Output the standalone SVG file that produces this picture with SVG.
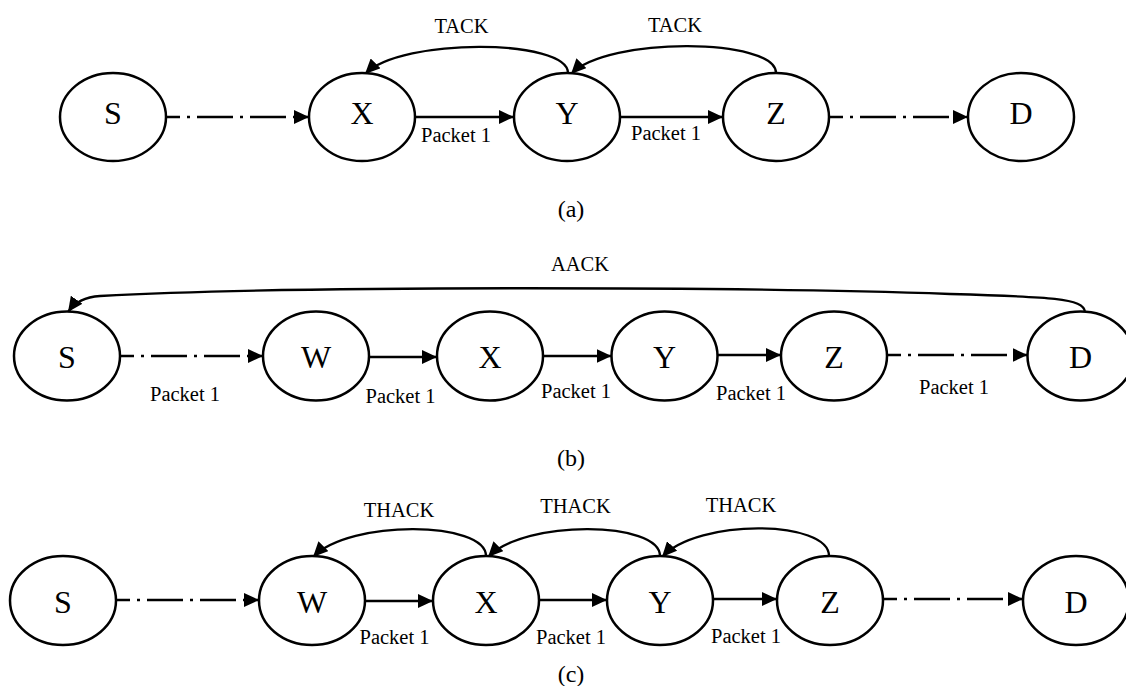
<svg xmlns="http://www.w3.org/2000/svg" width="1126" height="686" viewBox="0 0 1126 686">
<defs>
<marker id="ah" markerUnits="userSpaceOnUse" markerWidth="15" markerHeight="14" viewBox="0 0 15 14" refX="15" refY="7" orient="auto">
<path d="M0,0 L15,7 L0,14 z" fill="#000"/>
</marker>
</defs>
<style>
.node ellipse{fill:#fff;stroke:#000;stroke-width:2.5}
.node text{font-family:"Liberation Serif","Times New Roman",serif;font-size:32px;text-anchor:middle;fill:#000}
.lbl{font-family:"Liberation Serif","Times New Roman",serif;font-size:20.5px;text-anchor:middle;fill:#000}
.cap{font-size:24px}
.c path{stroke:#000;stroke-width:2.3;fill:none;marker-end:url(#ah)}
.c path.dash{stroke-dasharray:36 7 3 7;stroke-dashoffset:22}
</style>
<rect width="1126" height="686" fill="#fff"/>

<g id="connectors" class="c">
<!-- Row (a) -->
<path class="dash" d="M166,117 H309"/>
<path d="M415,117 H514"/>
<path d="M620,117 H723"/>
<path class="dash" d="M829,117 H968"/>
<path d="M568,73 C568,39 402,37 365,74"/>
<path d="M776,73 C776,38 608,36 571,74"/>
<!-- Row (b) -->
<path class="dash" d="M120,356 H263"/>
<path d="M369,357 H437"/>
<path d="M543,356 H611.5"/>
<path d="M717.5,355 H781"/>
<path class="dash" d="M887,355 H1027.5"/>
<path d="M1085,312 C1084,298 1050,297 950,294 C750,287 300,285 100,296 C85,297 75,302 68,312"/>
<!-- Row (c) -->
<path class="dash" d="M116,600 H259"/>
<path d="M365,601 H433"/>
<path d="M539,600 H607"/>
<path d="M713,599 H777"/>
<path class="dash" d="M883,599 H1023"/>
<path d="M486,556 C486,521 350,519 313,557"/>
<path d="M660,556 C660,521 525,519 488,557"/>
<path d="M829,556 C829,520 698,518 662,557"/>
</g>

<!-- Row (a) nodes -->
<g id="a-S" class="node"><ellipse cx="113" cy="117" rx="53" ry="44"/><text x="113" y="123.5">S</text></g>
<g id="a-X" class="node"><ellipse cx="362" cy="117" rx="53" ry="44"/><text x="362" y="123.5">X</text></g>
<g id="a-Y" class="node"><ellipse cx="567" cy="117" rx="53" ry="44"/><text x="567" y="123.5">Y</text></g>
<g id="a-Z" class="node"><ellipse cx="776" cy="117" rx="53" ry="44"/><text x="776" y="123.5">Z</text></g>
<g id="a-D" class="node"><ellipse cx="1021" cy="117" rx="53" ry="44"/><text x="1021" y="123.5">D</text></g>

<!-- Row (b) nodes -->
<g id="b-S" class="node"><ellipse cx="67" cy="356" rx="53" ry="44.5"/><text x="67" y="367.5">S</text></g>
<g id="b-W" class="node"><ellipse cx="316" cy="356" rx="53" ry="44.5"/><text x="316" y="367.5">W</text></g>
<g id="b-X" class="node"><ellipse cx="490" cy="356" rx="53" ry="44.5"/><text x="490" y="367.5">X</text></g>
<g id="b-Y" class="node"><ellipse cx="664.5" cy="356" rx="53" ry="44.5"/><text x="664.5" y="367.5">Y</text></g>
<g id="b-Z" class="node"><ellipse cx="834" cy="356" rx="53" ry="44.5"/><text x="834" y="367.5">Z</text></g>
<g id="b-D" class="node"><ellipse cx="1080.5" cy="356" rx="53" ry="44.5"/><text x="1080.5" y="367.5">D</text></g>

<!-- Row (c) nodes -->
<g id="c-S" class="node"><ellipse cx="63" cy="600.5" rx="53" ry="44.5"/><text x="63" y="613">S</text></g>
<g id="c-W" class="node"><ellipse cx="312" cy="600.5" rx="53" ry="44.5"/><text x="312" y="613">W</text></g>
<g id="c-X" class="node"><ellipse cx="486" cy="600.5" rx="53" ry="44.5"/><text x="486" y="613">X</text></g>
<g id="c-Y" class="node"><ellipse cx="660" cy="600.5" rx="53" ry="44.5"/><text x="660" y="613">Y</text></g>
<g id="c-Z" class="node"><ellipse cx="830" cy="600.5" rx="53" ry="44.5"/><text x="830" y="613">Z</text></g>
<g id="c-D" class="node"><ellipse cx="1076" cy="600.5" rx="53" ry="44.5"/><text x="1076" y="613">D</text></g>

<g id="labels">
<text class="lbl" x="461.5" y="33">TACK</text>
<text class="lbl" x="675" y="32">TACK</text>
<text class="lbl" x="456" y="142">Packet 1</text>
<text class="lbl" x="666" y="140">Packet 1</text>
<text class="lbl cap" x="571" y="217">(a)</text>

<text class="lbl" x="580" y="271">AACK</text>
<text class="lbl" x="185" y="401">Packet 1</text>
<text class="lbl" x="400.5" y="403">Packet 1</text>
<text class="lbl" x="576" y="398">Packet 1</text>
<text class="lbl" x="751" y="400">Packet 1</text>
<text class="lbl" x="954" y="394">Packet 1</text>
<text class="lbl cap" x="571" y="466">(b)</text>

<text class="lbl" x="399" y="517">THACK</text>
<text class="lbl" x="575.5" y="513">THACK</text>
<text class="lbl" x="741" y="512">THACK</text>
<text class="lbl" x="394.5" y="644">Packet 1</text>
<text class="lbl" x="571" y="644">Packet 1</text>
<text class="lbl" x="746" y="643">Packet 1</text>
<text class="lbl cap" x="571" y="682">(c)</text>
</g>
</svg>
